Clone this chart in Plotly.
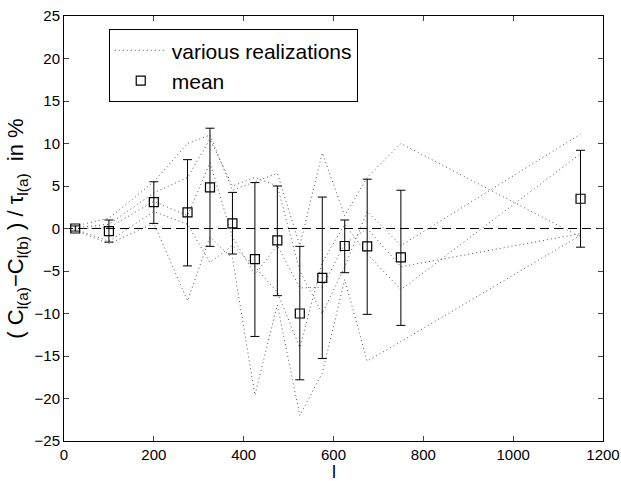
import plotly.graph_objects as go

# multipole positions
ell = [25, 100, 200, 275, 325, 375, 425, 475, 525, 575, 625, 675, 750, 1150]

# various realizations (values in %)
real_1 = [0.3, 1.2, 5.5, 10.0, 11.0, 4.5, 5.5, 6.5, -2.0, 8.9, 1.5, 6.0, 10.0, -1.0]
real_2 = [-0.2, -1.8, 0.6, -8.5, -1.0, -3.5, -19.6, -9.0, -22.0, -17.0, -6.0, -15.6, -13.3, -0.8]
real_3 = [0.1, 0.5, 4.2, 6.0, 10.5, 5.0, 6.0, 5.0, -5.0, -10.0, -4.5, 2.0, -2.0, 11.1]
real_4 = [-0.1, -1.5, 2.0, 0.5, -4.0, -2.0, -4.5, -7.5, -14.0, -4.0, 0.5, -3.0, -7.2, 8.8]
real_5 = [0.0, 0.1, 3.2, 1.5, 7.75, -1.0, -5.4, -2.0, -7.0, -6.9, -1.8, 0.0, -4.5, -0.6]
realizations = [real_1, real_2, real_3, real_4, real_5]

# mean and error bar ends
mean_val = [0.0, -0.3, 3.1, 1.9, 4.85, 0.6, -3.6, -1.4, -10.0, -5.8, -2.06, -2.1, -3.4, 3.5]
err_top = [0.3, 1.0, 5.5, 8.1, 11.8, 4.25, 5.4, 5.0, -2.1, 3.7, 1.0, 5.8, 4.5, 9.2]
err_bot = [-0.3, -1.6, 0.6, -4.4, -2.1, -3.0, -12.7, -7.9, -17.8, -15.3, -5.2, -10.1, -11.4, -2.2]

x_ticks = [0, 200, 400, 600, 800, 1000, 1200]
y_ticks = [-25, -20, -15, -10, -5, 0, 5, 10, 15, 20, 25]

FONT = "Liberation Sans, Arial, Helvetica, sans-serif"

fig = go.Figure()

for i, r in enumerate(realizations):
    fig.add_trace(go.Scatter(
        x=ell, y=r, mode="lines",
        line=dict(color="#555555", width=1, dash="1px,3px"),
        name="various realizations", legendgroup="real",
        showlegend=(i == 0),
    ))

fig.add_hline(y=0, line=dict(color="black", width=1, dash="9px,5px"), layer="below")

fig.add_trace(go.Scatter(
    x=ell, y=mean_val, mode="markers", name="mean",
    marker=dict(symbol="square-open", size=9, color="black", line=dict(width=1.2, color="black")),
    error_y=dict(
        type="data", symmetric=False,
        array=[t - m for t, m in zip(err_top, mean_val)],
        arrayminus=[m - b for m, b in zip(mean_val, err_bot)],
        color="black", thickness=1, width=4.5,
    ),
))

# x-axis label placed just below the tick labels
fig.add_annotation(
    text="l", xref="paper", yref="paper", x=0.5, y=0,
    xanchor="center", yanchor="middle", yshift=-31, showarrow=False,
    font=dict(size=18, family=FONT, color="black"),
)

fig.update_layout(
    width=621, height=481,
    margin=dict(l=64, r=18, t=16, b=40, autoexpand=False),
    paper_bgcolor="white", plot_bgcolor="white",
    font=dict(family=FONT, size=15, color="black"),
    showlegend=True,
    legend=dict(
        x=0.083, y=0.969, xanchor="left", yanchor="top",
        bordercolor="black", borderwidth=1, bgcolor="white",
        font=dict(size=21, family=FONT),
        tracegroupgap=0, itemwidth=52,
    ),
    xaxis=dict(
        range=[0, 1200], tickvals=x_ticks, ticks="inside", ticklen=5,
        showline=True, linecolor="black", linewidth=1, mirror="ticks",
        showgrid=False, zeroline=False, automargin=False,
        tickfont=dict(size=15, family=FONT),
    ),
    yaxis=dict(
        range=[-25, 25], tickvals=y_ticks, ticks="inside", ticklen=5,
        showline=True, linecolor="black", linewidth=1, mirror="ticks",
        showgrid=False, zeroline=False, automargin=False,
        title=dict(text="( C<sub>l(a)</sub>−C<sub>l(b)</sub> ) / τ<sub>l(a)</sub>  in %",
                   font=dict(size=22, family=FONT), standoff=4),
        tickfont=dict(size=15, family=FONT),
    ),
)

fig.write_html("out.html")
